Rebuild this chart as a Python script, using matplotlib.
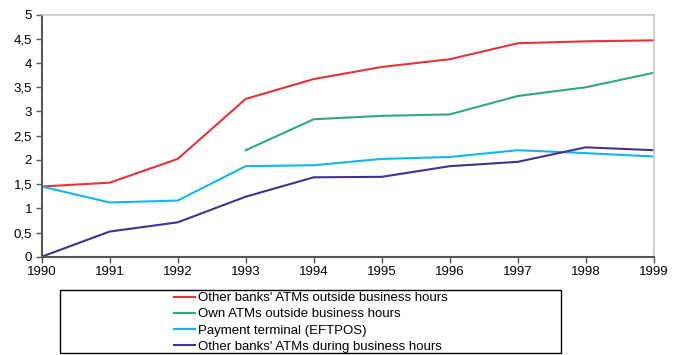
import matplotlib
matplotlib.use("Agg")
import matplotlib.pyplot as plt
from matplotlib.patches import Rectangle
from matplotlib.ticker import FuncFormatter

plt.rcParams['font.family'] = ['Liberation Sans', 'DejaVu Sans']

years = [1990, 1991, 1992, 1993, 1994, 1995, 1996, 1997, 1998, 1999]

other_outside = [1.45, 1.53, 2.02, 3.26, 3.67, 3.92, 4.08, 4.41, 4.45, 4.47]
own_years = [1993, 1994, 1995, 1996, 1997, 1998, 1999]
own_outside = [2.20, 2.84, 2.91, 2.94, 3.32, 3.50, 3.80]
eftpos = [1.45, 1.12, 1.16, 1.87, 1.89, 2.02, 2.06, 2.20, 2.14, 2.07]
other_during = [0.0, 0.52, 0.71, 1.24, 1.64, 1.65, 1.87, 1.96, 2.26, 2.20]

labels = ["Other banks' ATMs outside business hours",
          "Own ATMs outside business hours",
          "Payment terminal (EFTPOS)",
          "Other banks' ATMs during business hours"]
colors = ['#E5323B', '#2EA886', '#14B5EE', '#47308D']

fig = plt.figure(figsize=(6.77, 3.55), dpi=100)
ax = fig.add_axes([0.0616, 0.2769, 0.904, 0.6817])

lw = 1.5
ax.plot(years, other_outside, color=colors[0], lw=lw, label=labels[0])
ax.plot(own_years, own_outside, color=colors[1], lw=lw, label=labels[1])
ax.plot(years, eftpos, color=colors[2], lw=lw, label=labels[2])
ax.plot(years, other_during, color=colors[3], lw=lw, label=labels[3])

ax.set_xlim(1990, 1999)
ax.set_ylim(0, 5)
ax.set_xticks(years)
ax.set_yticks([0, 0.5, 1, 1.5, 2, 2.5, 3, 3.5, 4, 4.5, 5])
ax.yaxis.set_major_formatter(FuncFormatter(lambda v, p: f'{v:g}'.replace('.', ',')))
ax.tick_params(axis='both', labelsize=9.5, length=4, width=1, color='#555555', pad=3)

for side in ['left', 'bottom']:
    ax.spines[side].set_color('#555555')
    ax.spines[side].set_linewidth(1.5)
for side in ['top', 'right']:
    ax.spines[side].set_color('#C8C8C8')
    ax.spines[side].set_linewidth(1.2)

# legend sits in its own box below the axes
box = Rectangle((0.0886, 0.0065), 0.740, 0.1765, transform=fig.transFigure,
                fill=False, edgecolor='black', lw=1.0)
fig.patches.append(box)
handles, leg_labels = ax.get_legend_handles_labels()
fig.legend(handles, leg_labels, loc='center', bbox_to_anchor=(0.4587, 0.092),
           frameon=False, fontsize=9.5, handlelength=1.6, handletextpad=0.2,
           labelspacing=0.3, borderpad=0)

fig.savefig('out.png', dpi=100)
